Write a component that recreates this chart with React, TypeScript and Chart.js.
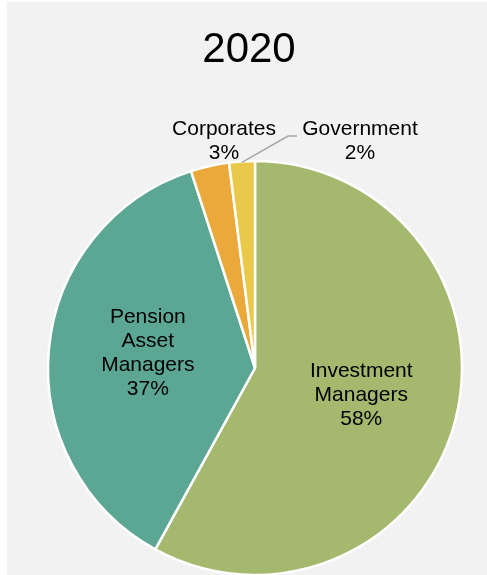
import React, { useEffect, useRef } from "react";
import { Chart, registerables } from "chart.js";

Chart.register(...registerables);

const title = "2020";
const categories = ["Investment Managers", "Pension Asset Managers", "Corporates", "Government"];
const labelLines = [["Investment", "Managers"], ["Pension", "Asset", "Managers"], ["Corporates"], ["Government"]];
const shares = [58, 37, 3, 2];
const colors = ["#A4B86E", "#5CA793", "#EAA93A", "#E9C84A"];

const FONT = "'Liberation Sans', Arial, sans-serif";

const overlay = {
  id: "overlay",
  beforeDraw(chart: any) {
    const { ctx, width, height } = chart;
    ctx.save();
    ctx.fillStyle = "#ffffff";
    ctx.fillRect(0, 0, width, height);
    ctx.fillStyle = "#F2F2F2";
    ctx.fillRect(7, 2, width - 7, height - 2);
    ctx.restore();
  },
  afterDraw(chart: any) {
    const { ctx } = chart;
    const meta = chart.getDatasetMeta(0);
    ctx.save();
    ctx.fillStyle = "#000";
    ctx.textAlign = "center";
    ctx.textBaseline = "middle";
    ctx.font = `42px ${FONT}`;
    ctx.fillText(title, 249, 50);
    ctx.font = `21px ${FONT}`;
    const lh = 24;
    meta.data.forEach((arc: any, i: number) => {
      const lines = [...labelLines[i], `${shares[i]}%`];
      const { x, y, startAngle, endAngle, outerRadius } = arc.getProps(
        ["x", "y", "startAngle", "endAngle", "outerRadius"],
        true
      );
      let cx: number, cy: number;
      if (i < 2) {
        const mid = (startAngle + endAngle) / 2;
        const r = outerRadius * 0.52;
        cx = x + Math.cos(mid) * r;
        cy = y + Math.sin(mid) * r;
        if (i === 1) cy -= 5;
        if (i === 0) cx += 2;
      } else if (i === 2) {
        cx = x - 31;
        cy = y - outerRadius - 20;
      } else {
        cx = x + 105;
        cy = y - outerRadius - 20;
        const mid = (startAngle + endAngle) / 2;
        const sx = x + Math.cos(mid) * (outerRadius + 1);
        const sy = y + Math.sin(mid) * (outerRadius + 1);
        ctx.strokeStyle = "#A6A6A6";
        ctx.lineWidth = 1.5;
        ctx.beginPath();
        ctx.moveTo(sx, sy + 2);
        ctx.lineTo(288, 136);
        ctx.lineTo(297, 136);
        ctx.stroke();
      }
      const top = cy - ((lines.length - 1) * lh) / 2;
      lines.forEach((t, k) => ctx.fillText(t, cx, top + k * lh));
    });
    ctx.restore();
  },
};

export default function App() {
  const ref = useRef<HTMLCanvasElement | null>(null);
  useEffect(() => {
    if (!ref.current) return;
    const chart = new Chart(ref.current, {
      type: "pie",
      data: {
        labels: categories,
        datasets: [
          {
            data: shares,
            backgroundColor: colors,
            borderColor: "#ffffff",
            borderWidth: 2.5,
          },
        ],
      },
      options: {
        responsive: false,
        animation: false,
        radius: 207,
        layout: { padding: { left: 23, right: 0, top: 161, bottom: 0 } },
        plugins: {
          legend: { display: false },
          title: { display: false },
          tooltip: { enabled: false },
        },
      } as any,
      plugins: [overlay],
    });
    return () => chart.destroy();
  }, []);
  return (
    <div style={{ position: "fixed", left: 0, top: 0, width: 487, height: 575 }}>
      <canvas ref={ref} width={487} height={575} style={{ display: "block" }} />
    </div>
  );
}
